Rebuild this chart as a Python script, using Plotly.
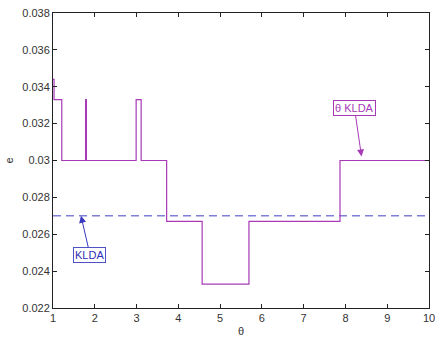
import plotly.graph_objects as go

# Step curve of error e versus theta (theta-KLDA)
theta = [1.0, 1.025, 1.21, 1.78, 1.80, 2.99, 3.11, 3.72, 4.57, 5.69, 7.87, 10.0]
e_theta = [0.0344, 0.0333, 0.0300, 0.0333, 0.0300, 0.0333, 0.0300, 0.0267, 0.0233, 0.0267, 0.0300, 0.0300]

# Constant KLDA baseline
klda_x = [1.0, 10.0]
klda_y = [0.027, 0.027]

x_ticks = [1, 2, 3, 4, 5, 6, 7, 8, 9, 10]
y_ticks = [0.022, 0.024, 0.026, 0.028, 0.03, 0.032, 0.034, 0.036, 0.038]
y_tick_labels = ["0.022", "0.024", "0.026", "0.028", "0.03", "0.032", "0.034", "0.036", "0.038"]

purple = "#a83ab8"
blue = "#7f7fd8"

fig = go.Figure()
fig.add_trace(go.Scatter(x=klda_x, y=klda_y, mode="lines",
                         line=dict(color=blue, width=1.6, dash="8px,5px"),
                         showlegend=False))
fig.add_trace(go.Scatter(x=theta, y=e_theta, mode="lines", line_shape="hv",
                         line=dict(color=purple, width=1.2), showlegend=False))

font = dict(family="Liberation Sans, Arial, sans-serif", size=11, color="#333333")

fig.update_layout(
    width=435, height=337,
    margin=dict(l=53, r=6, t=13, b=29),
    paper_bgcolor="white", plot_bgcolor="white",
    font=font,
    xaxis=dict(range=[1, 10], tickvals=x_ticks, ticks="inside", ticklen=4,
               tickcolor="#222", showline=True, linecolor="#222", linewidth=1,
               mirror="ticks", showgrid=False, zeroline=False, automargin=False,
               ticklabeloverflow="allow",
               title=dict(text="θ", standoff=6, font=dict(size=11)), tickfont=font),
    yaxis=dict(range=[0.022, 0.038], tickvals=y_ticks, ticktext=y_tick_labels,
               ticks="inside", ticklen=4, tickcolor="#222", showline=True,
               linecolor="#222", linewidth=1, mirror="ticks", showgrid=False,
               zeroline=False, automargin=False, ticklabeloverflow="allow",
               title=dict(text="e", standoff=6, font=dict(size=11)),
               tickfont=font),
    annotations=[
        dict(x=1.67, y=0.027, xref="x", yref="y", text="KLDA", showarrow=True,
             ax=9, ay=39, axref="pixel", ayref="pixel",
             arrowhead=2, arrowsize=1.4, arrowwidth=1, arrowcolor="#3838c0",
             font=dict(family="Liberation Sans, Arial, sans-serif", size=11, color="#3030b8"),
             bordercolor="#5050c8", borderwidth=1, borderpad=1, bgcolor="white"),
        dict(x=8.385, y=0.03022, xref="x", yref="y", text="θ KLDA", showarrow=True,
             ax=-7, ay=-48, arrowhead=2, arrowsize=1.4, arrowwidth=1, arrowcolor=purple,
             font=dict(family="Liberation Sans, Arial, sans-serif", size=11, color=purple),
             bordercolor=purple, borderwidth=1, borderpad=1, bgcolor="white"),
    ],
)

fig.write_html("out.html")
